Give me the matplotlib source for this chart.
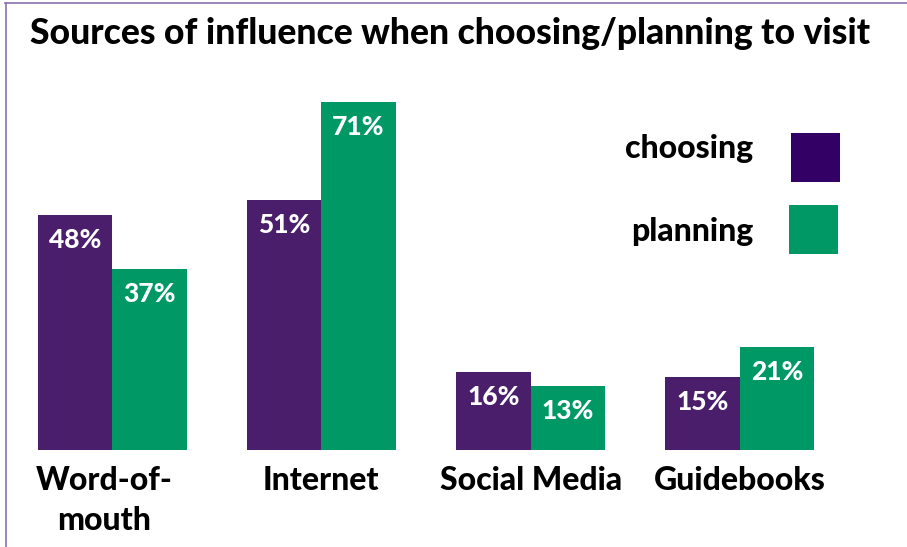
import numpy as np
from matplotlib import pyplot as plt
from matplotlib.patches import Rectangle
from matplotlib.lines import Line2D

categories = ["Word-of-\nmouth", "Internet", "Social Media", "Guidebooks"]
choosing = [48, 51, 16, 15]
planning = [37, 71, 13, 21]
series_names = ["choosing", "planning"]

bar_purple = "#4a1e6a"
legend_purple = "#330066"
green = "#009966"
border = "#8a6fae"

plt.rcParams['font.family'] = ['Lato', 'DejaVu Sans']

W, H = 907, 547
fig = plt.figure(figsize=(W / 100, H / 100), dpi=100)
ax = fig.add_axes([0, 0, 1, 1])

# pixel mapping: group centre 0 at x=112px, 209.3 px per group
xpx = 209.3
x0 = 112
ax.set_xlim(-x0 / xpx, (W - x0) / xpx)
# baseline at 450px from top, ~4.9 px per percent
k = 4.9
base = 450
ax.set_ylim(-(H - base) / k, base / k)
ax.axis('off')

x = np.arange(len(categories))
w = 74.5 / xpx
ax.bar(x - w / 2, choosing, w, color=bar_purple, linewidth=0)
ax.bar(x + w / 2, planning, w, color=green, linewidth=0)

for xi, v in zip(x - w / 2, choosing):
    ax.text(xi, v - 25 / k, f"{v}%", color="white", ha="center", va="center",
            fontsize=19, fontweight="black")
for xi, v in zip(x + w / 2, planning):
    ax.text(xi, v - 25 / k, f"{v}%", color="white", ha="center", va="center",
            fontsize=19, fontweight="black")

for i, c in enumerate(categories):
    shift = -8 if "\n" in c else 0
    ax.text(x[i] + shift / xpx, -16 / k, c, ha="center", va="top", fontsize=23,
            fontweight="black", linespacing=1.45)

# title
fig.text(30 / W, 1 - 33 / H, "Sources of influence when choosing/planning to visit",
         ha="left", va="center", fontsize=25.6, fontweight="black")

# legend made of text + squares
leg = [(series_names[0], legend_purple, 148, 791, 133),
       (series_names[1], green, 232, 789, 205)]
for name, col, ty, sx, sy in leg:
    fig.text(753 / W, 1 - ty / H, name, ha="right", va="center", fontsize=23,
             fontweight="black")
    fig.patches.append(Rectangle((sx / W, 1 - (sy + 49) / H), 49 / W, 49 / H,
                                 transform=fig.transFigure, color=col, lw=0))

# frame on top and left
fig.lines.append(Line2D([5 / W, 1], [1 - 2.5 / H, 1 - 2.5 / H], transform=fig.transFigure,
                        color=border, lw=1.2))
fig.lines.append(Line2D([5.5 / W, 5.5 / W], [0, 1 - 2.5 / H], transform=fig.transFigure,
                        color=border, lw=1.2))

fig.savefig("out.png", dpi=100)
